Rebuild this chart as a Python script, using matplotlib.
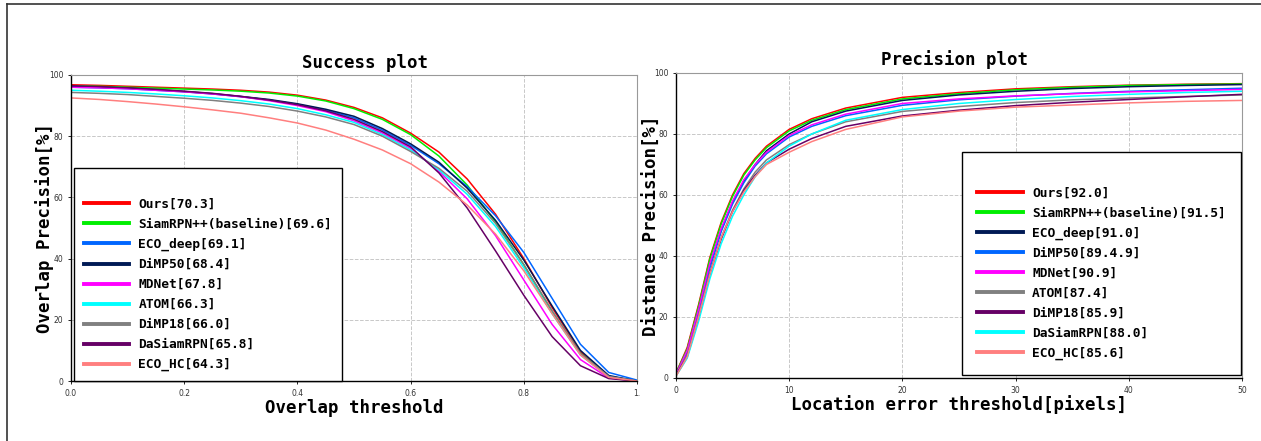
import numpy as np
import matplotlib
matplotlib.use("Agg")
import matplotlib.pyplot as plt
from matplotlib.lines import Line2D

# ---- data ----
overlap_thr = [0.00, 0.05, 0.10, 0.15, 0.20, 0.25, 0.30, 0.35, 0.40, 0.45, 0.50,
               0.55, 0.60, 0.65, 0.70, 0.75, 0.80, 0.85, 0.90, 0.95, 1.00]
success_names = ['Ours[70.3]', 'SiamRPN++(baseline)[69.6]', 'ECO_deep[69.1]',
                 'DiMP50[68.4]', 'MDNet[67.8]', 'ATOM[66.3]', 'DiMP18[66.0]',
                 'DaSiamRPN[65.8]', 'ECO_HC[64.3]']
success_colors = ['#ff0000', '#00ee00', '#0066ff', '#001a55', '#ff00ff',
                  '#00ffff', '#808080', '#660066', '#ff7f7f']
succ_ours = [96.8, 96.6, 96.3, 96.0, 95.7, 95.4, 95.0, 94.4, 93.4, 91.8, 89.4,
             86.0, 81.0, 74.8, 66.0, 54.5, 40.0, 24.0, 9.5, 1.5, 0.0]
succ_siamrpnpp = [96.5, 96.3, 96.0, 95.7, 95.4, 95.1, 94.7, 94.1, 93.1, 91.5, 89.0,
                  85.5, 80.5, 73.5, 64.0, 52.0, 38.0, 22.5, 9.0, 1.5, 0.0]
succ_eco_deep = [96.0, 95.8, 95.5, 95.0, 94.5, 93.8, 92.9, 91.8, 90.4, 88.5, 86.0,
                 82.0, 77.0, 71.0, 63.5, 54.0, 42.0, 27.0, 12.0, 2.8, 0.3]
succ_dimp50 = [96.2, 96.0, 95.7, 95.2, 94.6, 93.9, 93.0, 92.0, 90.6, 88.8, 86.5,
               82.5, 77.5, 71.5, 63.0, 52.5, 39.5, 24.5, 10.0, 1.8, 0.0]
succ_mdnet = [96.0, 95.8, 95.5, 95.0, 94.5, 93.8, 92.9, 91.6, 90.0, 88.0, 85.0,
              81.0, 76.0, 68.5, 59.5, 47.5, 33.0, 18.5, 7.0, 1.0, 0.0]
succ_atom = [95.0, 94.7, 94.3, 93.8, 93.2, 92.5, 91.6, 90.5, 89.0, 87.0, 84.5,
             80.5, 75.5, 69.0, 61.0, 50.5, 37.0, 22.0, 8.5, 1.3, 0.0]
succ_dimp18 = [94.3, 94.0, 93.6, 93.0, 92.4, 91.7, 90.8, 89.7, 88.2, 86.3, 83.8,
               80.0, 75.0, 69.5, 62.0, 51.5, 38.0, 23.0, 9.0, 1.5, 0.0]
succ_dasiam = [96.5, 96.2, 95.8, 95.3, 94.7, 94.0, 93.0, 91.8, 90.3, 88.3, 85.5,
               81.5, 76.5, 68.0, 56.5, 42.5, 28.0, 14.5, 5.0, 0.8, 0.0]
succ_eco_hc = [92.5, 92.0, 91.3, 90.5, 89.6, 88.6, 87.5, 86.0, 84.3, 82.0, 79.0,
               75.5, 71.0, 65.0, 57.5, 48.0, 36.0, 22.0, 8.5, 1.2, 0.0]

loc_thr = [0, 1, 2, 3, 4, 5, 6, 7, 8, 10, 12, 15, 20, 25, 30, 35, 40, 45, 50]
precision_names = ['Ours[92.0]', 'SiamRPN++(baseline)[91.5]', 'ECO_deep[91.0]',
                   'DiMP50[89.4.9]', 'MDNet[90.9]', 'ATOM[87.4]', 'DiMP18[85.9]',
                   'DaSiamRPN[88.0]', 'ECO_HC[85.6]']
precision_colors = ['#ff0000', '#00ee00', '#001a55', '#0066ff', '#ff00ff',
                    '#808080', '#660066', '#00ffff', '#ff7f7f']
prec_ours = [1.5, 10, 24, 39.5, 51, 60, 67, 72, 76, 81.5, 85, 88.5, 92.0, 93.6, 94.8, 95.5, 96.0, 96.3, 96.5]
prec_siamrpnpp = [1.5, 9.5, 23.5, 39, 50.5, 59.5, 66.5, 71.5, 75.5, 81, 84.5, 88, 91.5, 93.2, 94.5, 95.3, 95.9, 96.2, 96.4]
prec_eco_deep = [1.2, 8.5, 22, 37, 48.5, 57.5, 64.5, 70, 74.5, 80, 84, 87.5, 91.0, 92.8, 94.0, 94.9, 95.5, 95.9, 96.2]
prec_dimp50 = [1.0, 8, 21, 36, 48, 57, 64, 69.5, 73.5, 79, 82.5, 86, 89.4, 91.2, 92.4, 93.3, 94.0, 94.5, 95.0]
prec_mdnet = [1.2, 9, 22.5, 37.5, 49, 58, 65, 70, 74, 79.5, 83, 86.5, 90.0, 91.5, 92.5, 93.2, 93.8, 94.2, 94.6]
prec_atom = [0.8, 7.5, 20, 34.5, 46, 55, 62, 67.5, 71.5, 76.5, 80, 84, 87.4, 89, 90.3, 91.2, 91.8, 92.3, 92.8]
prec_dimp18 = [0.8, 7, 19.5, 34, 45.5, 54.5, 61.5, 66.5, 70.5, 75, 78.5, 82.5, 85.9, 87.8, 89.3, 90.4, 91.3, 92.2, 93.0]
prec_dasiam = [0.6, 6.5, 18.5, 32.5, 44, 53, 60, 66, 70.5, 76, 80, 84.5, 88.0, 90, 91.3, 92.3, 93.0, 93.6, 94.0]
prec_eco_hc = [0.5, 7, 20, 34, 46, 54.5, 61, 66, 70, 74, 77.5, 81.5, 85.6, 87.5, 88.8, 89.5, 90.2, 90.7, 91.0]

success_series = [succ_ours, succ_siamrpnpp, succ_eco_deep, succ_dimp50, succ_mdnet,
                  succ_atom, succ_dimp18, succ_dasiam, succ_eco_hc]
precision_series = [prec_ours, prec_siamrpnpp, prec_eco_deep, prec_dimp50, prec_mdnet,
                    prec_atom, prec_dimp18, prec_dasiam, prec_eco_hc]

MONO = 'DejaVu Sans Mono'


def style_axes(ax):
    ax.grid(True, linestyle='--', color='#c8c8c8', linewidth=0.7)
    ax.tick_params(labelsize=5.5, labelcolor='#333333', length=2, width=0.6)
    ax.spines['left'].set_color('black')
    ax.spines['bottom'].set_color('black')
    ax.spines['left'].set_linewidth(1.0)
    ax.spines['bottom'].set_linewidth(1.0)
    for s in ('top', 'right'):
        ax.spines[s].set_color('#999999')
        ax.spines[s].set_linewidth(0.8)


def make_legend(ax, handles_colors, names, loc, anchor, pad=0.75):
    handles = [Line2D([0], [0], color=c, lw=2.8) for c in handles_colors]
    leg = ax.legend(handles, names, loc=loc, bbox_to_anchor=anchor,
                    borderaxespad=0, fancybox=False, framealpha=1,
                    edgecolor='black', handlelength=3.5, handletextpad=0.75,
                    labelspacing=0.54, borderpad=pad, title=' ',
                    prop={'family': MONO, 'weight': 'bold', 'size': 9.3})
    leg.get_title().set_fontsize(9.3)
    leg.get_frame().set_linewidth(1.0)
    return leg


fig = plt.figure(figsize=(12.61, 4.41), dpi=100)

# success plot
ax1 = fig.add_axes([0.0563, 0.136, 0.4489, 0.694])
for vals, c in zip(success_series, success_colors):
    ax1.plot(overlap_thr, vals, color=c, lw=1.1)
ax1.set_xlim(0, 1)
ax1.set_ylim(0, 100)
ax1.set_xticks([0, 0.2, 0.4, 0.6, 0.8, 1.0])
ax1.set_xticklabels(['0.0', '0.2', '0.4', '0.6', '0.8', '1.'])
ax1.set_yticks([0, 20, 40, 60, 80, 100])
style_axes(ax1)
ax1.set_title('Success plot', family=MONO, weight='bold', fontsize=12.5, pad=5, x=0.52)
ax1.set_xlabel('Overlap threshold', family=MONO, weight='bold', fontsize=12.5, labelpad=1)
ax1.set_ylabel('Overlap Precision[%]', family=MONO, weight='bold', fontsize=12.5, labelpad=-4)
make_legend(ax1, success_colors, success_names, 'lower left', (0.005, 0.0))

# precision plot
ax2 = fig.add_axes([0.536, 0.1429, 0.4489, 0.6916])
for vals, c in zip(precision_series, precision_colors):
    ax2.plot(loc_thr, vals, color=c, lw=1.1)
ax2.set_xlim(0, 50)
ax2.set_ylim(0, 100)
ax2.set_xticks([0, 10, 20, 30, 40, 50])
ax2.set_yticks([0, 20, 40, 60, 80, 100])
style_axes(ax2)
ax2.set_title('Precision plot', family=MONO, weight='bold', fontsize=12.5, pad=6, x=0.492)
ax2.set_xlabel('Location error threshold[pixels]', family=MONO, weight='bold', fontsize=12.5, labelpad=0)
ax2.set_ylabel('Distance Precision[%]', family=MONO, weight='bold', fontsize=12.5, labelpad=-5)
make_legend(ax2, precision_colors, precision_names, 'lower right', (0.998, 0.01), pad=1.15)

# outer frame lines (top and left)
fig.add_artist(Line2D([7 / 1261, 1], [1 - 4 / 441, 1 - 4 / 441], color='#333333', lw=1.2,
                      transform=fig.transFigure))
fig.add_artist(Line2D([7 / 1261, 7 / 1261], [0, 1 - 4 / 441], color='#333333', lw=1.2,
                      transform=fig.transFigure))

fig.savefig('out.png', dpi=100)
